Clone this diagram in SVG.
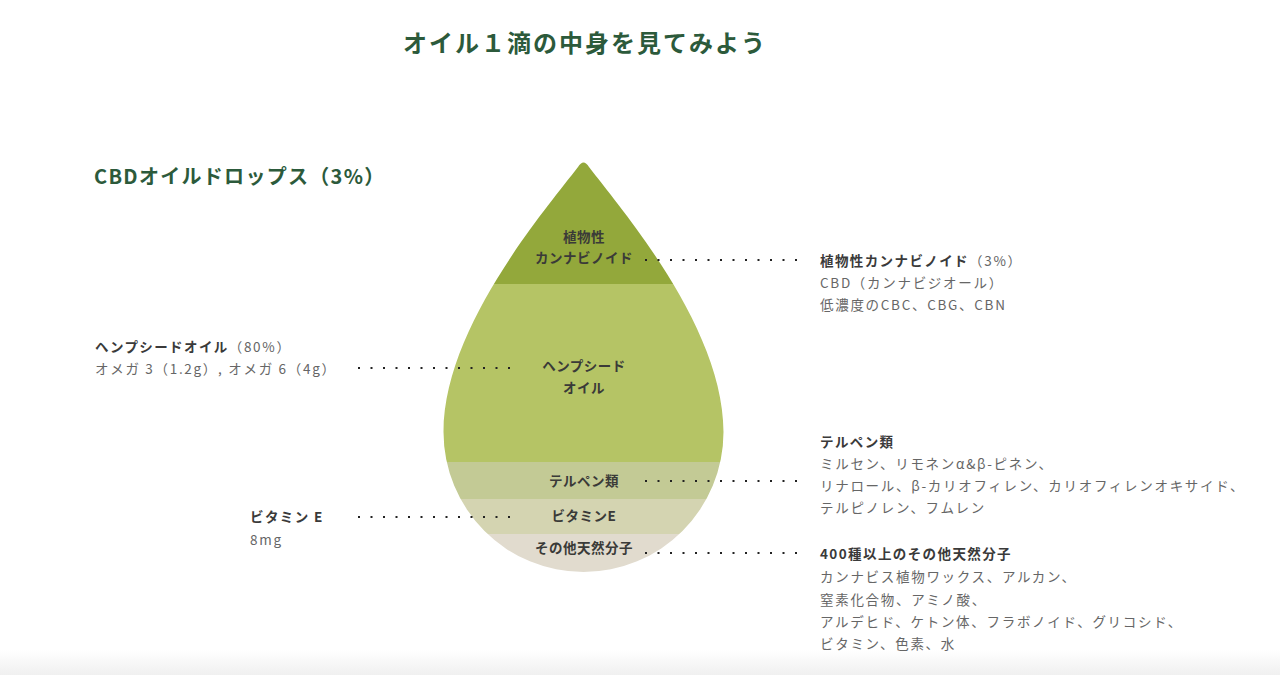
<svg xmlns="http://www.w3.org/2000/svg" width="1280" height="675" viewBox="0 0 1280 675">
<style>
  text { font-family: "Noto Sans CJK JP", "Noto Sans", sans-serif; }
  .title { font-size: 24px; font-weight: 700; fill: #2c5a3b; letter-spacing: 2px; }
  .sub { font-size: 20px; font-weight: 700; fill: #2c5a3b; letter-spacing: 1.3px; }
  .lbl { font-size: 13.5px; font-weight: 700; fill: #3a3a38; text-anchor: middle; letter-spacing: 0.5px; }
  .h { font-size: 13.5px; font-weight: 700; fill: #3a3a3a; letter-spacing: 1.4px; }
  .t { font-size: 13.5px; font-weight: 400; fill: #666; letter-spacing: 1.7px; }
  .dots { stroke: #222; stroke-width: 2; stroke-dasharray: 2 10.5; fill: none; }
</style>
<defs>
  <clipPath id="drop">
    <path d="M578 167 Q583.5 158 589 167 C627 216 723.5 330 723.5 432 A140 140 0 0 1 443.5 432 C443.5 330 540 216 578 167 Z"/>
  </clipPath>
  <linearGradient id="bottomShade" x1="0" y1="0" x2="0" y2="1">
    <stop offset="0" stop-color="#ffffff"/>
    <stop offset="1" stop-color="#f0f0f0"/>
  </linearGradient>
</defs>
<rect width="1280" height="675" fill="#ffffff"/>
<rect x="0" y="650" width="1280" height="25" fill="url(#bottomShade)"/>

<text class="title" x="585" y="52" text-anchor="middle">オイル１滴の中身を見てみよう</text>
<text class="sub" x="94" y="184">CBDオイルドロップス（3%）</text>

<g clip-path="url(#drop)">
  <g id="band-cannabinoid"><rect x="430" y="150" width="310" height="134" fill="#93a83b"/></g>
  <g id="band-hempseed"><rect x="430" y="284" width="310" height="178" fill="#b5c465"/></g>
  <g id="band-terpene"><rect x="430" y="462" width="310" height="37" fill="#c3ca95"/></g>
  <g id="band-vitamine"><rect x="430" y="499" width="310" height="35" fill="#d4d4b1"/></g>
  <g id="band-other"><rect x="430" y="534" width="310" height="50" fill="#e1dbce"/></g>
</g>

<g id="labels-drop">
  <text class="lbl" x="584" y="242">植物性</text>
  <text class="lbl" x="584" y="263">カンナビノイド</text>
  <text class="lbl" x="584" y="371">ヘンプシード</text>
  <text class="lbl" x="584" y="393">オイル</text>
  <text class="lbl" x="584" y="486">テルペン類</text>
  <text class="lbl" x="584" y="521">ビタミンE</text>
  <text class="lbl" x="584" y="553">その他天然分子</text>
</g>

<g id="connectors">
  <line class="dots" x1="645" y1="260" x2="800" y2="260"/>
  <line class="dots" x1="358" y1="368" x2="513" y2="368"/>
  <line class="dots" x1="645" y1="481" x2="800" y2="481"/>
  <line class="dots" x1="358" y1="517" x2="513" y2="517"/>
  <line class="dots" x1="645" y1="553" x2="800" y2="553"/>
</g>

<g id="info-cannabinoid">
  <text x="820" y="266"><tspan class="h">植物性カンナビノイド</tspan><tspan class="t">（3%）</tspan></text>
  <text class="t" x="820" y="288">CBD（カンナビジオール）</text>
  <text class="t" x="820" y="310">低濃度のCBC、CBG、CBN</text>
</g>

<g id="info-hempseed">
  <text x="95" y="352"><tspan class="h">ヘンプシードオイル</tspan><tspan class="t">（80%）</tspan></text>
  <text class="t" x="95" y="374">オメガ 3（1.2g）, オメガ 6（4g）</text>
</g>

<g id="info-terpene">
  <text class="h" x="820" y="447">テルペン類</text>
  <text class="t" x="820" y="469">ミルセン、リモネンα&amp;β-ピネン、</text>
  <text class="t" x="820" y="491">リナロール、β-カリオフィレン、カリオフィレンオキサイド、</text>
  <text class="t" x="820" y="513">テルピノレン、フムレン</text>
</g>

<g id="info-vitamine">
  <text class="h" x="250" y="522">ビタミン E</text>
  <text class="t" x="250" y="545">8mg</text>
</g>

<g id="info-other">
  <text class="h" x="820" y="559">400種以上のその他天然分子</text>
  <text class="t" x="820" y="582">カンナビス植物ワックス、アルカン、</text>
  <text class="t" x="820" y="605">窒素化合物、アミノ酸、</text>
  <text class="t" x="820" y="627">アルデヒド、ケトン体、フラボノイド、グリコシド、</text>
  <text class="t" x="820" y="649">ビタミン、色素、水</text>
</g>
</svg>
